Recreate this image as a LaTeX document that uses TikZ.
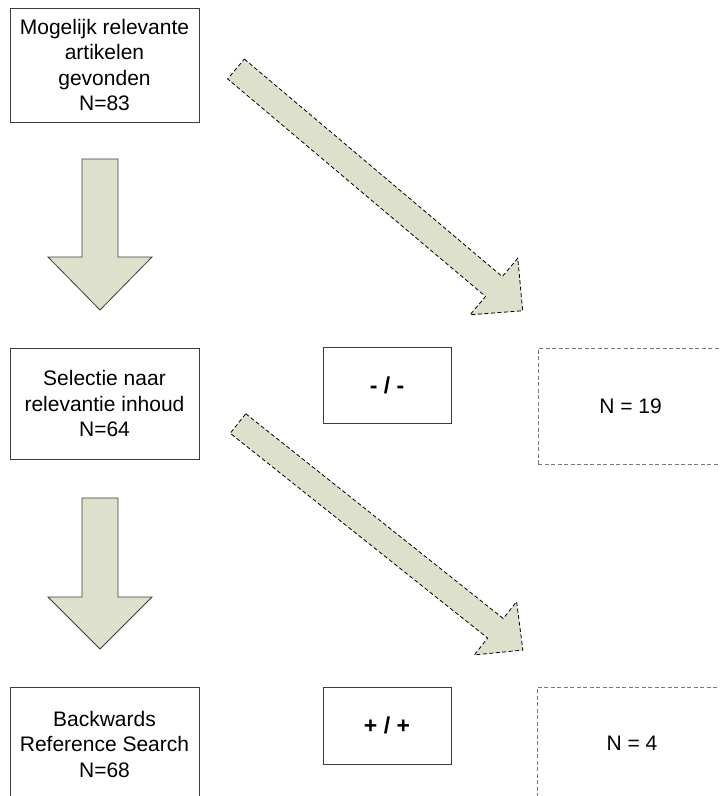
\documentclass[tikz,border=0pt]{standalone}
\usepackage{fontspec}
\setmainfont{Liberation Sans}
\definecolor{arrowfill}{RGB}{221,225,204}
\definecolor{boxline}{RGB}{60,60,60}
\definecolor{dashline}{RGB}{120,120,120}
\newcommand{\blockarr}[7]{%
  \begin{scope}[shift={#2}, rotate=#3]
    \draw[#1] (0,#5) -- ({#4-#7},#5) -- ({#4-#7},#6) -- (#4,0) -- ({#4-#7},-#6) -- ({#4-#7},-#5) -- (0,-#5) -- cycle;
  \end{scope}}
\tikzset{
  txt/.style={font=\fontsize{21}{25.5}\selectfont},
  solidbox/.style={draw=boxline, line width=0.9pt, inner sep=0pt, align=center, txt},
  dashbox/.style={draw=dashline, line width=0.9pt, dash pattern=on 4pt off 2.5pt, inner sep=0pt, align=center, txt},
  signbox/.style={draw=boxline, line width=0.9pt, inner sep=0pt, align=center, font=\fontsize{23}{27}\selectfont\bfseries},
  downarrow/.style={fill=arrowfill, draw=boxline, line width=0.8pt, line join=miter},
  diagarrow/.style={fill=arrowfill, draw=black, line width=0.8pt, dash pattern=on 4pt off 2.5pt, line join=miter}
}
\begin{document}
\begin{tikzpicture}[x=1pt,y=1pt]
\useasboundingbox (0,0) rectangle (720,-796);
\clip (0,0) rectangle (720,-796);
\fill[white] (0,0) rectangle (720,-796);

% left column boxes
\node[solidbox, minimum width=189pt, minimum height=114pt] (found) at (104.5,-65)
  {Mogelijk relevante\\artikelen\\gevonden\\N=83};
\node[solidbox, minimum width=189pt, minimum height=111pt] (select) at (104.5,-403.5)
  {Selectie naar\\relevantie inhoud\\N=64};
\node[solidbox, minimum width=189pt, minimum height=114pt] (backward) at (104.5,-744)
  {Backwards\\Reference Search\\N=68};

% sign boxes
\node[signbox, minimum width=128pt, minimum height=76pt] (minus) at (387,-385) {- / -};
\node[signbox, minimum width=128pt, minimum height=77pt] (plus) at (387,-725.5) {+ / +};

% dashed result boxes
\node[dashbox, minimum width=185pt, minimum height=116pt] (n19) at (630.5,-406) {N = 19};
\node[dashbox, minimum width=190pt, minimum height=112pt] (n4) at (632,-743) {N = 4};

% down block arrows
\blockarr{downarrow}{(100,-159)}{-90}{151}{18}{52}{53}
\blockarr{downarrow}{(100,-498)}{-90}{151}{18}{52}{52}

% diagonal block arrows
\blockarr{diagarrow}{(236,-69)}{-40.14}{375}{13}{37}{37.6}
\blockarr{diagarrow}{(238,-423.5)}{-38.5}{364}{12.5}{34}{35}
\end{tikzpicture}
\end{document}
